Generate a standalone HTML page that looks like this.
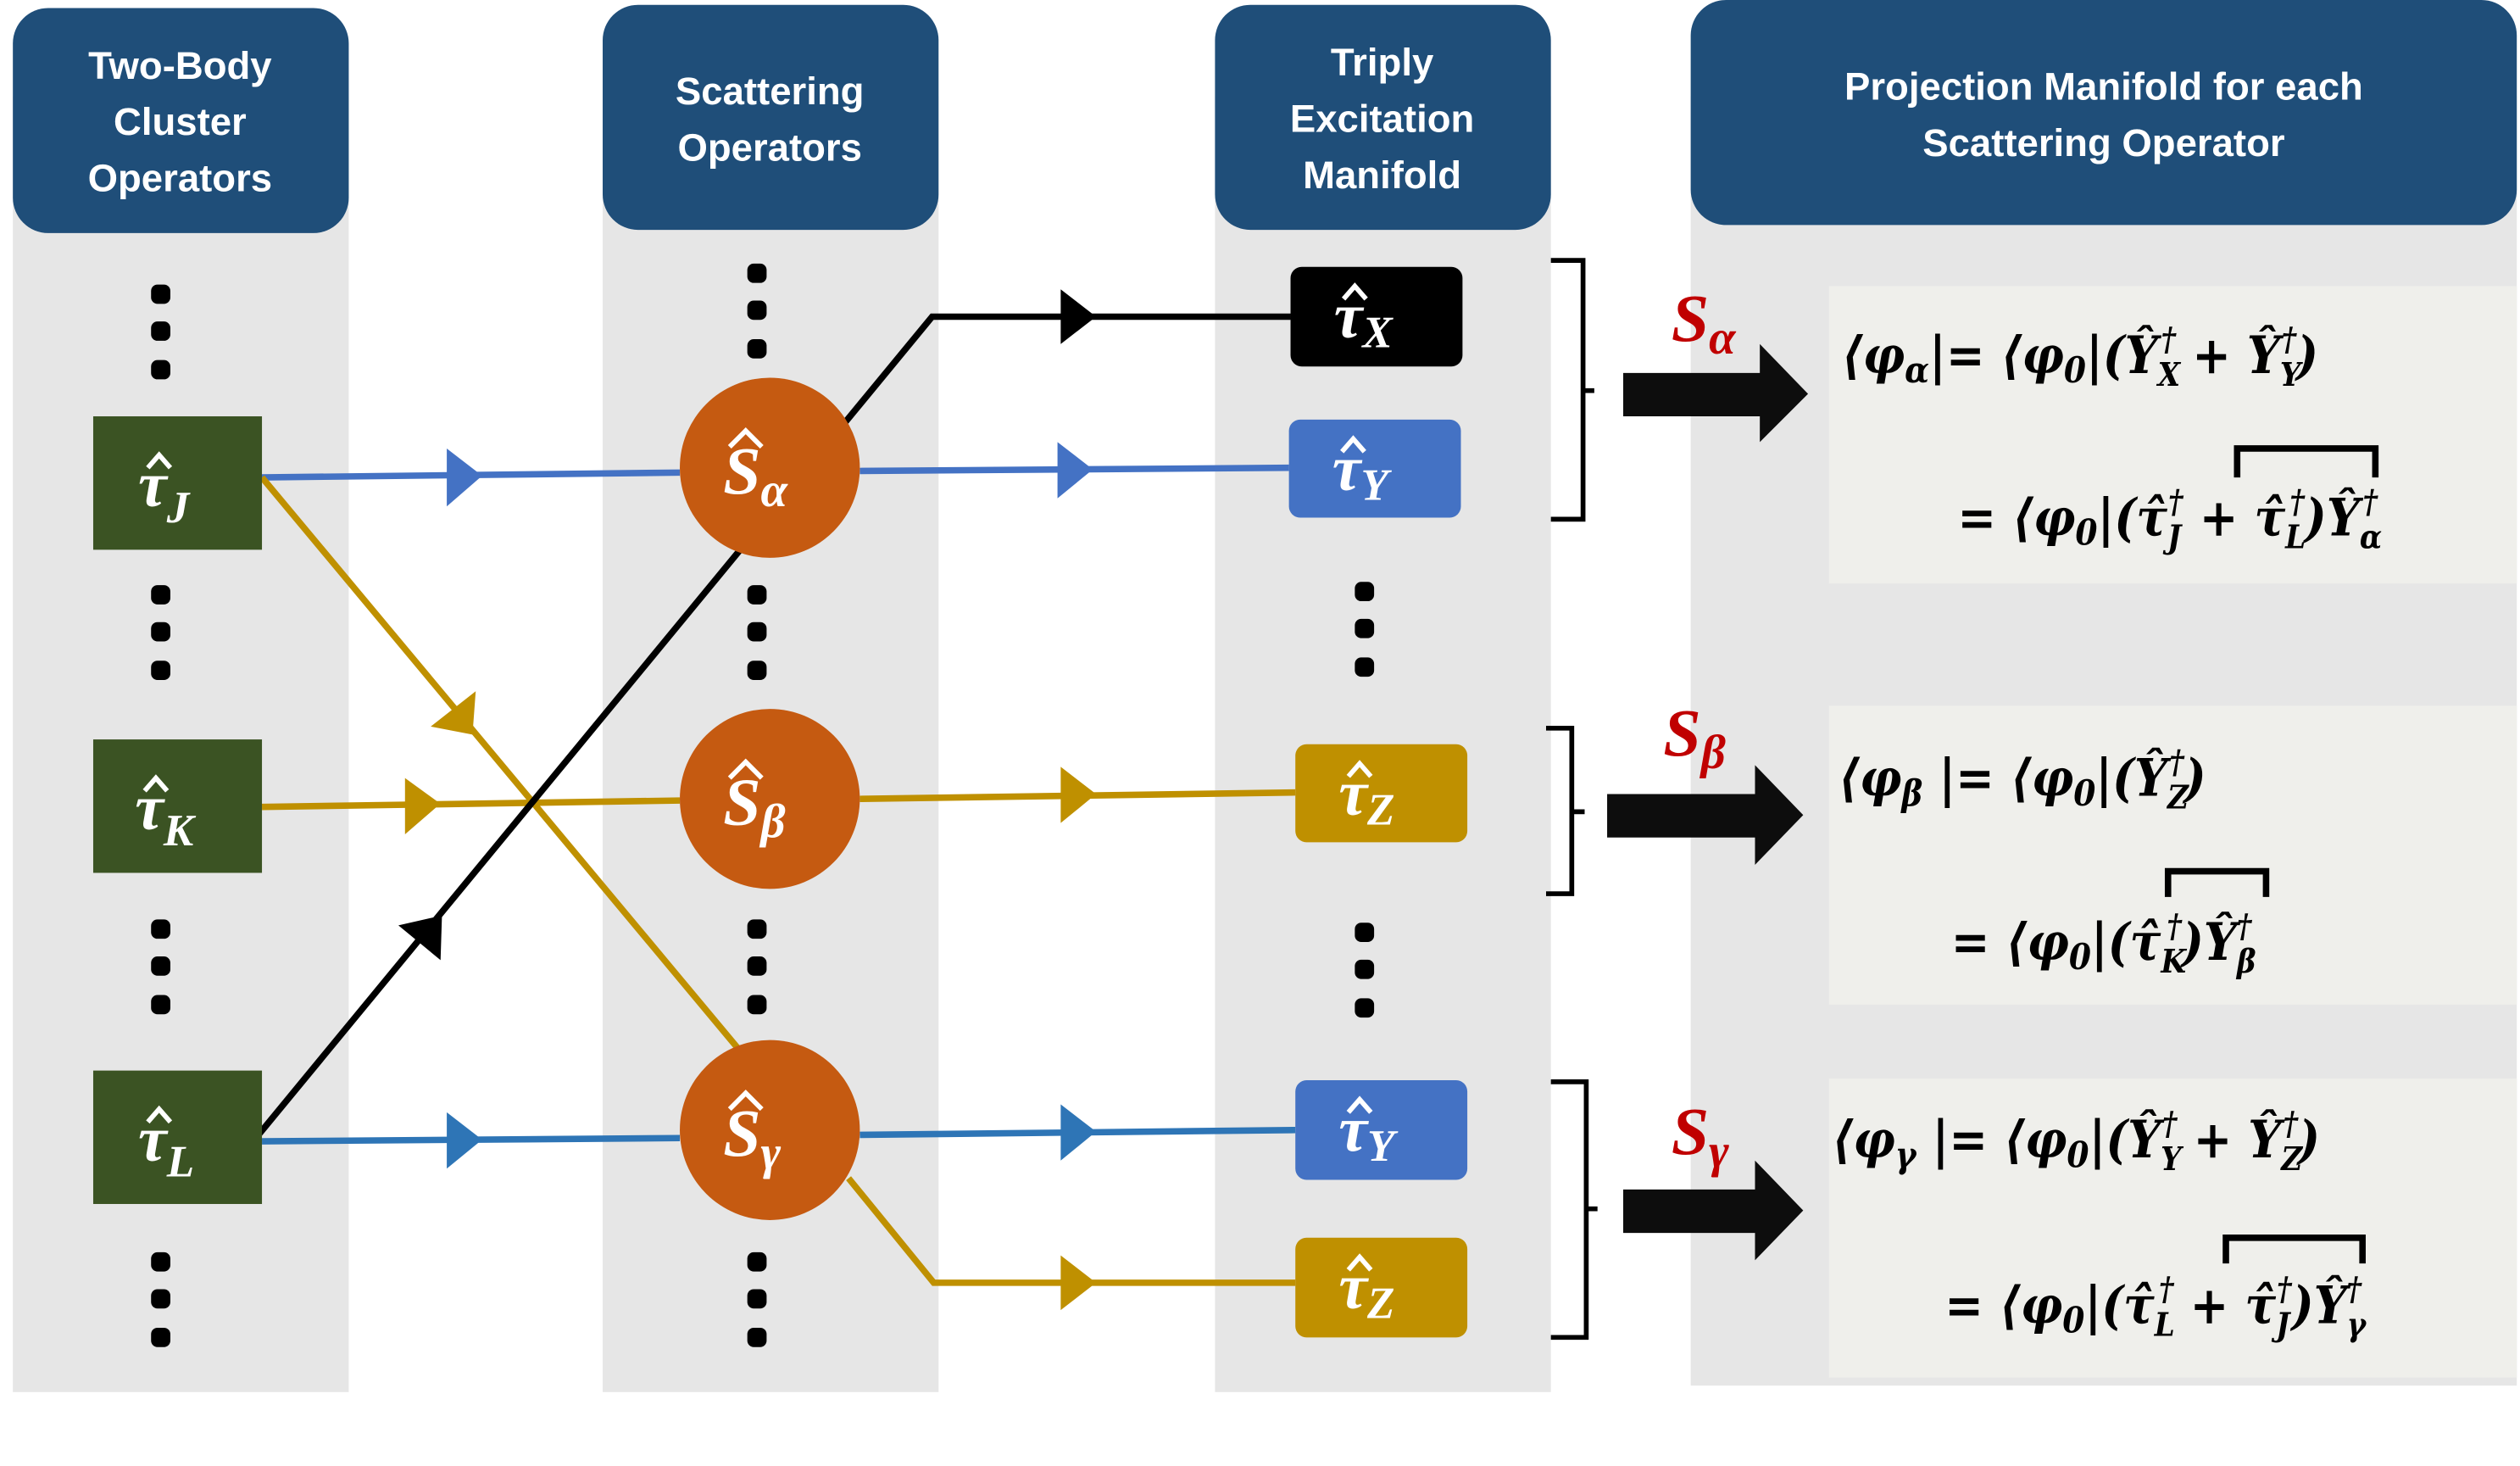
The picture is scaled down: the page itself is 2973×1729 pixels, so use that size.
<!DOCTYPE html>
<html><head><meta charset="utf-8"><style>
html,body{margin:0;padding:0;background:#fff}
svg{display:block}
.h{font-family:"Liberation Sans",sans-serif;font-weight:bold;fill:#fff;font-size:24px;text-anchor:middle}
.m{font-family:"Liberation Serif",serif;font-style:italic;font-weight:bold;fill:#fff}
.eq{font-family:"DejaVu Serif Condensed","DejaVu Serif",serif;font-style:italic;font-weight:bold;font-size:32px;fill:#000}
.s{font-family:"Liberation Serif",serif;font-style:italic;font-weight:bold;fill:#c00000;font-size:42px}
.hat{fill:none;stroke:#fff;stroke-width:3}
</style></head><body>
<svg width="2973" height="1729" viewBox="0 0 1568 912" preserveAspectRatio="none" xmlns="http://www.w3.org/2000/svg">
<rect width="1568" height="912" fill="#fff"/>
<rect x="8" y="60" width="209" height="806" fill="#e6e6e6"/>
<rect x="375" y="60" width="209" height="806" fill="#e6e6e6"/>
<rect x="756" y="60" width="209" height="806" fill="#e6e6e6"/>
<rect x="1052" y="60" width="514" height="802" fill="#e6e6e6"/>
<rect x="8" y="5" width="209" height="140" rx="22" fill="#1f4e79"/>
<rect x="375" y="3" width="209" height="140" rx="22" fill="#1f4e79"/>
<rect x="756" y="3" width="209" height="140" rx="22" fill="#1f4e79"/>
<rect x="1052" y="0" width="514" height="140" rx="22" fill="#1f4e79"/>
<text class="h" x="112" y="49">Two-Body</text>
<text class="h" x="112" y="84">Cluster</text>
<text class="h" x="112" y="119">Operators</text>
<text class="h" x="479" y="65">Scattering</text>
<text class="h" x="479" y="100">Operators</text>
<text class="h" x="860" y="47">Triply</text>
<text class="h" x="860" y="82">Excitation</text>
<text class="h" x="860" y="117">Manifold</text>
<text class="h" x="1309" y="62">Projection Manifold for each</text>
<text class="h" x="1309" y="97">Scattering Operator</text>
<rect x="1138" y="178" width="428" height="185" fill="#efefeb"/>
<rect x="1138" y="439" width="428" height="186" fill="#efefeb"/>
<rect x="1138" y="671" width="428" height="186" fill="#efefeb"/>
<g fill="#000">
<g id="d"><rect x="94" y="177" width="12" height="12" rx="4"/><rect x="94" y="200" width="12" height="12" rx="4"/><rect x="94" y="224" width="12" height="12" rx="4"/></g>
<use href="#d" y="187"/><use href="#d" y="395"/><use href="#d" y="602"/>
<use href="#d" x="371" y="-13"/><use href="#d" x="371" y="187"/><use href="#d" x="371" y="395"/><use href="#d" x="371" y="602"/>
<use href="#d" x="749" y="185"/><use href="#d" x="749" y="397"/>
</g>
<g stroke-width="4" fill="none">
<line x1="163" y1="297" x2="423" y2="294" stroke="#4472c4"/>
<line x1="535" y1="293" x2="802" y2="291" stroke="#4472c4"/>
<line x1="163" y1="502" x2="423" y2="498" stroke="#bf9000"/>
<line x1="535" y1="497" x2="806" y2="493" stroke="#bf9000"/>
<line x1="163" y1="710" x2="423" y2="708" stroke="#2e75b6"/>
<line x1="535" y1="706" x2="806" y2="703" stroke="#2e75b6"/>
<line x1="163" y1="297" x2="459" y2="652" stroke="#bf9000"/>
<polyline points="528,733 581,798 806,798" stroke="#bf9000"/>
<polyline points="160,707 580,197 803,197" stroke="#000"/>
</g>
<g>
<polygon points="278,279 300,296 278,315" fill="#4472c4"/>
<polygon points="658,275 680,292 658,310" fill="#4472c4"/>
<polygon points="252,484 274,500 252,519" fill="#bf9000"/>
<polygon points="660,477 682,494 660,512" fill="#bf9000"/>
<polygon points="278,692 300,709 278,727" fill="#2e75b6"/>
<polygon points="660,687 682,704 660,722" fill="#2e75b6"/>
<polygon points="660,781 682,798 660,815" fill="#bf9000"/>
<polygon points="660,180 682,197 660,214" fill="#000"/>
<polygon points="296,430 294,457 268,452" fill="#bf9000"/>
<polygon points="-11,-17 11,0 -11,17" fill="#000" transform="translate(268,578) rotate(-50.5)"/>
</g>
<rect x="58" y="259" width="105" height="83" fill="#3b5323"/>
<rect x="58" y="460" width="105" height="83" fill="#3b5323"/>
<rect x="58" y="666" width="105" height="83" fill="#3b5323"/>
<text class="m" x="86" y="315" font-size="40">τ<tspan font-size="28" dy="10">J</tspan></text>
<text class="m" x="84" y="516" font-size="40">τ<tspan font-size="28" dy="10">K</tspan></text>
<text class="m" x="86" y="722" font-size="40">τ<tspan font-size="28" dy="10">L</tspan></text>
<path class="hat" d="M92,291 L99,283 L106,291"/>
<path class="hat" d="M90,492 L97,484 L104,492"/>
<path class="hat" d="M92,698 L99,690 L106,698"/>
<circle cx="479" cy="291" r="56" fill="#c55a11"/>
<circle cx="479" cy="497" r="56" fill="#c55a11"/>
<circle cx="479" cy="703" r="56" fill="#c55a11"/>
<text class="m" x="450" y="307" font-size="42">S<tspan font-size="30" dy="8">α</tspan></text>
<text class="m" x="450" y="513" font-size="42">S<tspan font-size="30" dy="8">β</tspan></text>
<text class="m" x="450" y="719" font-size="42">S<tspan font-size="30" dy="8">γ</tspan></text>
<path class="hat" d="M454,278 L464,268 L474,278"/>
<path class="hat" d="M454,484 L464,474 L474,484"/>
<path class="hat" d="M454,690 L464,680 L474,690"/>
<rect x="803" y="166" width="107" height="62" rx="7" fill="#000"/>
<rect x="802" y="261" width="107" height="61" rx="7" fill="#4472c4"/>
<rect x="806" y="463" width="107" height="61" rx="7" fill="#bf9000"/>
<rect x="806" y="672" width="107" height="62" rx="7" fill="#4472c4"/>
<rect x="806" y="770" width="107" height="62" rx="7" fill="#bf9000"/>
<text class="m" x="830" y="210" font-size="40">τ<tspan font-size="28" dy="6">X</tspan></text>
<text class="m" x="829" y="305" font-size="40">τ<tspan font-size="28" dy="6">Y</tspan></text>
<text class="m" x="833" y="507" font-size="40">τ<tspan font-size="28" dy="6">Z</tspan></text>
<text class="m" x="833" y="716" font-size="40">τ<tspan font-size="28" dy="6">Y</tspan></text>
<text class="m" x="833" y="814" font-size="40">τ<tspan font-size="28" dy="6">Z</tspan></text>
<path class="hat" d="M836,186 L843,178 L850,186"/>
<path class="hat" d="M835,281 L842,273 L849,281"/>
<path class="hat" d="M839,483 L846,475 L853,483"/>
<path class="hat" d="M839,692 L846,684 L853,692"/>
<path class="hat" d="M839,790 L846,782 L853,790"/>
<g stroke="#000" stroke-width="3" fill="none">
<path d="M965,162 H985 V243 H992 M985,243 V323 H965"/>
<path d="M962,453 H978 V505 H986 M978,505 V556 H962"/>
<path d="M965,673 H987 V752 H994 M987,752 V832 H965"/>
</g>
<polygon points="1010,232 1095,232 1095,214 1125,245 1095,275 1095,259 1010,259" fill="#0d0d0d"/>
<polygon points="1000,494 1092,494 1092,476 1122,507 1092,538 1092,521 1000,521" fill="#0d0d0d"/>
<polygon points="1010,740 1092,740 1092,722 1122,753 1092,784 1092,767 1010,767" fill="#0d0d0d"/>
<text class="s" x="1040" y="212">S<tspan font-size="30" dy="8">α</tspan></text>
<text class="s" x="1035" y="470">S<tspan font-size="30" dy="8">β</tspan></text>
<text class="s" x="1040" y="718">S<tspan font-size="30" dy="8">γ</tspan></text>
<g class="eq">
<text x="1146" y="232">⟨φ<tspan font-size="22" dy="6">α</tspan><tspan dy="-6">|= ⟨φ</tspan><tspan font-size="22" dy="6">0</tspan><tspan dy="-6">|(Ŷ</tspan><tspan font-size="20" dy="8">X</tspan><tspan font-size="20" dx="-12" dy="-22">†</tspan><tspan dy="14"> + Ŷ</tspan><tspan font-size="20" dy="8">Y</tspan><tspan font-size="20" dx="-12" dy="-22">†</tspan><tspan dy="14">)</tspan></text>
<text x="1218" y="333">= ⟨φ<tspan font-size="22" dy="6">0</tspan><tspan dy="-6">|(τ̂</tspan><tspan font-size="20" dy="8">J</tspan><tspan font-size="20" dx="-8" dy="-22">†</tspan><tspan dy="14"> + τ̂</tspan><tspan font-size="20" dy="8">L</tspan><tspan font-size="20" dx="-10" dy="-22">†</tspan><tspan dy="14">)Ŷ</tspan><tspan font-size="20" dy="8">α</tspan><tspan font-size="20" dx="-12" dy="-22">†</tspan></text>
<text x="1144" y="495">⟨φ<tspan font-size="22" dy="6">β</tspan><tspan dy="-6"> |= ⟨φ</tspan><tspan font-size="22" dy="6">0</tspan><tspan dy="-6">|(Ŷ</tspan><tspan font-size="20" dy="8">Z</tspan><tspan font-size="20" dx="-12" dy="-22">†</tspan><tspan dy="14">)</tspan></text>
<text x="1214" y="597">= ⟨φ<tspan font-size="22" dy="6">0</tspan><tspan dy="-6">|(τ̂</tspan><tspan font-size="20" dy="8">K</tspan><tspan font-size="20" dx="-12" dy="-22">†</tspan><tspan dy="14">)Ŷ</tspan><tspan font-size="20" dy="8">β</tspan><tspan font-size="20" dx="-12" dy="-22">†</tspan></text>
<text x="1140" y="720">⟨φ<tspan font-size="22" dy="6">γ</tspan><tspan dy="-6"> |= ⟨φ</tspan><tspan font-size="22" dy="6">0</tspan><tspan dy="-6">|(Ŷ</tspan><tspan font-size="20" dy="8">Y</tspan><tspan font-size="20" dx="-12" dy="-22">†</tspan><tspan dy="14"> + Ŷ</tspan><tspan font-size="20" dy="8">Z</tspan><tspan font-size="20" dx="-12" dy="-22">†</tspan><tspan dy="14">)</tspan></text>
<text x="1210" y="823">= ⟨φ<tspan font-size="22" dy="6">0</tspan><tspan dy="-6">|(τ̂</tspan><tspan font-size="20" dy="8">L</tspan><tspan font-size="20" dx="-10" dy="-22">†</tspan><tspan dy="14"> + τ̂</tspan><tspan font-size="20" dy="8">J</tspan><tspan font-size="20" dx="-8" dy="-22">†</tspan><tspan dy="14">)Ŷ</tspan><tspan font-size="20" dy="8">γ</tspan><tspan font-size="20" dx="-12" dy="-22">†</tspan></text>
</g>
<g stroke="#000" stroke-width="4" fill="none">
<path d="M1392,297 V279 H1478 V297"/>
<path d="M1349,558 V542 H1410 V558"/>
<path d="M1385,786 V770 H1470 V786"/>
</g>
</svg>
</body></html>
